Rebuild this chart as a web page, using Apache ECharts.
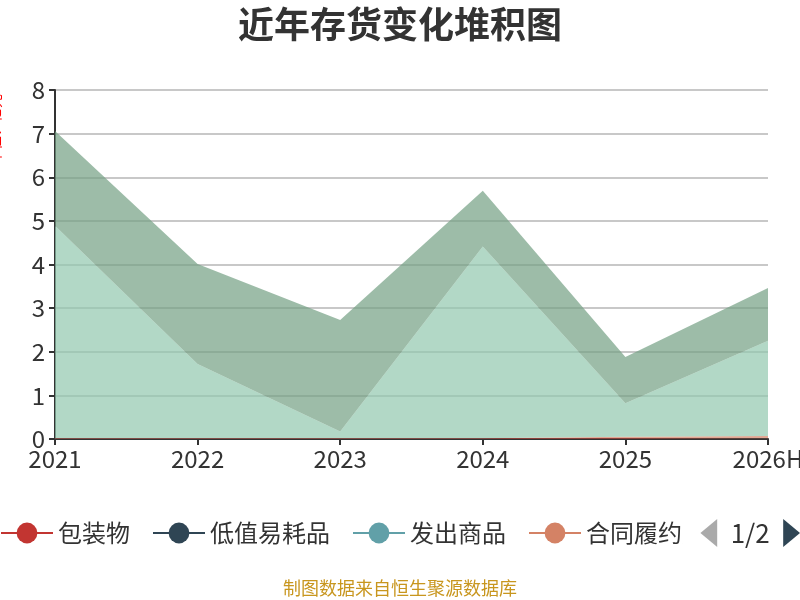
<!DOCTYPE html>
<html>
<head>
<meta charset="utf-8">
<script src="https://cdn.jsdelivr.net/npm/echarts@6/dist/echarts.min.js"></script>
<style>
html,body{margin:0;padding:0;background:#fff;}
#main{width:800px;height:600px;}
</style>
</head>
<body>
<div id="main"></div>
<script>
var categories = ['2021', '2022', '2023', '2024', '2025', '2026H'];
var seriesNames = ['包装物', '低值易耗品', '发出商品', '合同履约成本', '库存商品', '原材料'];
var baozhuangwu = [0.02, 0.02, 0.02, 0.02, 0.02, 0.02];
var dizhiyihaopin = [0, 0, 0, 0, 0, 0];
var fachushangpin = [0, 0, 0, 0, 0, 0];
var hetonglvyue = [0, 0, 0, 0, 0.03, 0.05];
var kucunshangpin = [4.87, 1.70, 0.15, 4.39, 0.77, 2.18];
var yuancailiao = [2.17, 2.29, 2.56, 1.28, 1.06, 1.21];
var seriesValues = [baozhuangwu, dizhiyihaopin, fachushangpin, hetonglvyue, kucunshangpin, yuancailiao];
var colors = ['#c23531', '#2f4554', '#61a0a8', '#d48265', '#91c7ae', '#749f83', '#ca8622', '#bda29a', '#6e7074', '#546570', '#c4ccd3'];

var chart = echarts.init(document.getElementById('main'));
var series = seriesNames.map(function (name, i) {
  return {
    name: name,
    type: 'line',
    stack: 'total',
    data: seriesValues[i],
    symbol: 'circle',
    showSymbol: false,
    lineStyle: { width: 0 },
    areaStyle: { opacity: 0.7 }
  };
});
chart.setOption({
  color: colors,
  textStyle: { fontFamily: 'Noto Sans CJK SC' },
  title: {
    text: '近年存货变化堆积图',
    left: 'center',
    top: 1,
    textStyle: { fontSize: 36, fontWeight: 'bold', color: '#333', fontFamily: 'Noto Sans CJK SC' }
  },
  legend: {
    type: 'scroll',
    left: 0,
    right: 0,
    top: 519,
    padding: 0,
    itemWidth: 52,
    itemHeight: 26,
    itemGap: 22,
    textStyle: { fontSize: 24, color: '#333' },
    lineStyle: { width: 2 },
    pageIconSize: [17, 28],
    pageButtonItemGap: 2,
    pageButtonGap: 18,
    pageIconColor: '#2f4554',
    pageIconInactiveColor: '#aaa',
    pageTextStyle: { fontSize: 26, color: '#333' },
    data: seriesNames
  },
  grid: { left: 55, right: 32, top: 90, bottom: 161, outerBoundsMode: 'none' },
  xAxis: {
    type: 'category',
    boundaryGap: false,
    data: categories,
    axisLine: { lineStyle: { color: '#333', width: 2 } },
    axisTick: { lineStyle: { color: '#333', width: 2 }, length: 6 },
    axisLabel: { fontSize: 24, color: '#333', margin: 8 }
  },
  yAxis: {
    type: 'value',
    min: 0,
    max: 8,
    interval: 1,
    axisLine: { show: true, lineStyle: { color: '#333', width: 2 } },
    axisTick: { show: true, lineStyle: { color: '#333', width: 2 }, length: 6 },
    axisLabel: { fontSize: 24, color: '#333', margin: 10 },
    splitLine: { lineStyle: { color: '#c8c8c8', width: 2 } }
  },
  graphic: [
    {
      type: 'text',
      left: -12,
      top: 94,
      rotation: Math.PI / 2,
      style: {
        text: '单位：亿元',
        fill: '#ff0000',
        fontSize: 14,
        fontFamily: 'Noto Sans CJK SC'
      }
    },
    {
      type: 'text',
      left: 'center',
      top: 579,
      style: {
        text: '制图数据来自恒生聚源数据库',
        fill: '#c8961e',
        fontSize: 18,
        fontFamily: 'Noto Sans CJK SC'
      }
    }
  ],
  series: series
});
</script>
</body>
</html>
